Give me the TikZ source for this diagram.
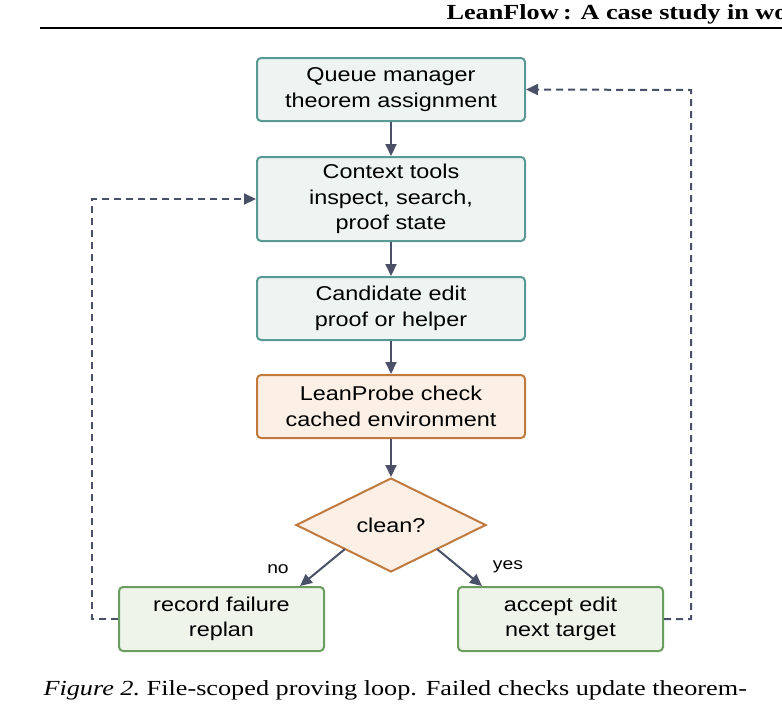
\documentclass[tikz,border=0pt]{standalone}
\usepackage{fontspec}
\usepackage{graphicx}
\setmainfont{Liberation Sans}
\newfontfamily\serifx{Liberation Serif}
\usetikzlibrary{shapes.geometric,arrows.meta}
\definecolor{tealB}{HTML}{5A9A96}\definecolor{tealF}{HTML}{EDF4F2}
\definecolor{orB}{HTML}{C07A3E}\definecolor{orF}{HTML}{FBEFE6}
\definecolor{grB}{HTML}{6A9E5E}\definecolor{grF}{HTML}{EEF4EA}
\definecolor{arr}{HTML}{4A5068}
\newcommand{\wx}[1]{\scalebox{1.17}[1]{#1}}
\newcommand{\wy}[1]{\scalebox{1.22}[1]{#1}}
\begin{document}
\begin{tikzpicture}[x=1pt,y=-1pt,
 box/.style={draw=tealB,fill=tealF,line width=2pt,rounded corners=4pt,minimum width=268pt,align=center,font=\fontsize{20}{25.5}\selectfont},
 orbox/.style={box,draw=orB,fill=orF},
 grbox/.style={box,draw=grB,fill=grF,minimum width=205pt,minimum height=64pt},
 ar/.style={draw=arr,line width=2pt,-{Triangle[length=12pt,width=11pt]}},
 dar/.style={ar,dashed,dash pattern=on 7pt off 5pt},
 lab/.style={font=\fontsize{16.5}{18}\selectfont}]
\useasboundingbox (0,0) rectangle (782,710);
\clip (0,0) rectangle (782,710);
\node[anchor=base west,font=\serifx\bfseries\fontsize{21.5}{24}\selectfont] (hd) at (443,19) {\wy{LeanFlow\,: A case study in workflow}};
\draw[line width=1.5pt] (40,28) -- (800,28);
\node[box,minimum height=63pt] (q) at (391,89.5) {\wx{Queue manager}\\\wx{theorem assignment}};
\node[box,minimum height=84pt] (c) at (391,199) {\wx{Context tools}\\\wx{inspect, search,}\\\wx{proof state}};
\node[box,minimum height=63pt] (d) at (391,308.5) {\wx{Candidate edit}\\\wx{proof or helper}};
\node[orbox,minimum height=63pt] (l) at (391,406.5) {\wx{LeanProbe check}\\\wx{cached environment}};
\node[diamond,draw=orB,fill=orF,line width=2pt,minimum width=190pt,minimum height=94pt,inner sep=0pt,font=\fontsize{20}{24}\selectfont] (k) at (391,525) {\wx{clean?}};
\node[grbox] (r) at (221.5,619) {\wx{record failure}\\\wx{replan}};
\node[grbox] (a) at (560.5,619) {\wx{accept edit}\\\wx{next target}};
\draw[ar] (q) -- (c);
\draw[ar] (c) -- (d);
\draw[ar] (d) -- (l);
\draw[ar] (l) -- (k);
\draw[ar] (345,549) -- (300,586);
\draw[ar] (437,549) -- (482,586);
\node[lab] (no) at (278,569) {\wx{no}};
\node[lab] (yes) at (508,567) {\wx{yes}};
\draw[dar] (r.west) -- (92,619) -- (92,199) -- (c.west);
\draw[dar] (a.east) -- (691,619) -- (691,90) -- (q.east);
\node[anchor=base west,font=\serifx\fontsize{21.5}{24}\selectfont] (cap) at (40,695) {\wy{\textit{Figure 2.}\ File-scoped proving loop. Failed checks update theorem-}};
\end{tikzpicture}
\end{document}
